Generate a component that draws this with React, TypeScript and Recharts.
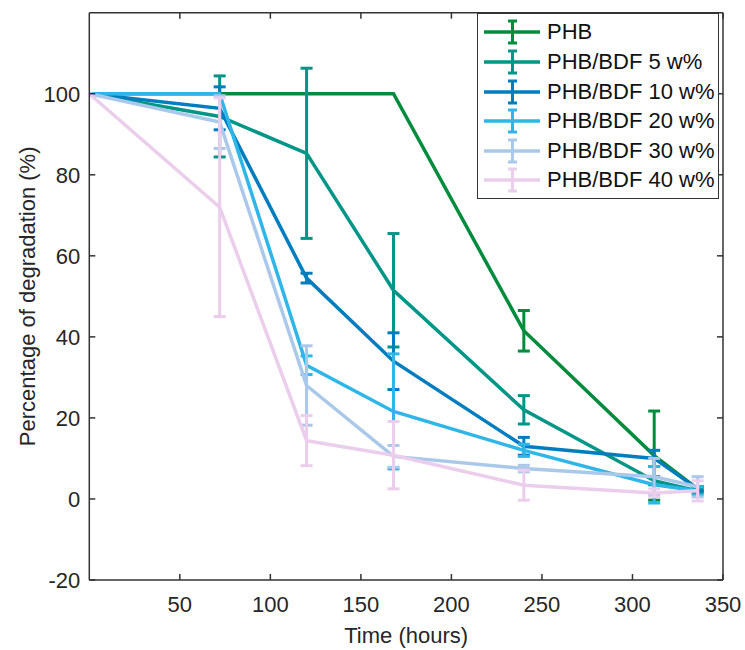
import React from 'react';
import { ComposedChart, Line, XAxis, YAxis, ErrorBar, Legend } from 'recharts';

// ---- data ----
const timeHours = [0, 72, 120, 168, 240, 312, 336];

const seriesNames = [
  'PHB',
  'PHB/BDF 5 w%',
  'PHB/BDF 10 w%',
  'PHB/BDF 20 w%',
  'PHB/BDF 30 w%',
  'PHB/BDF 40 w%',
];

const phb = [100, 100, 100, 100, 41.5, 10.7, 2.5];
const phbErr = [0, 0, 0, 0, 5, 11, 0.5];

const bdf5 = [100, 94.4, 85.3, 51.5, 22, 4.5, 2];
const bdf5Err = [0, 10, 21, 14, 3.5, 1, 0.5];

const bdf10 = [100, 96.4, 54.5, 34, 13, 10, 2.5];
const bdf10Err = [0, 5.3, 1.2, 7, 2.2, 2, 0.5];

const bdf20 = [100, 100, 33, 21.6, 12, 3.5, 2];
const bdf20Err = [0, 0, 2.3, 14.2, 1.5, 4.5, 1];

const bdf30 = [100, 93, 28, 10.5, 7.5, 5.5, 3];
const bdf30Err = [0, 6.5, 9.8, 2.7, 0.8, 4.5, 2.5];

const bdf40 = [100, 72, 14.4, 10.8, 3.4, 1.5, 2];
const bdf40Err = [0, 27, 6.2, 8.3, 3.7, 1, 2.5];

const xTicks = [50, 100, 150, 200, 250, 300, 350];
const yTicks = [-20, 0, 20, 40, 60, 80, 100];

// ---- styling ----
const colors = ['#008C3C', '#009687', '#007DBE', '#2EB6E8', '#AAC8EA', '#EBCDEC'];
const AXIS = '#333333';
const FONT = '"Liberation Sans", Arial, Helvetica, sans-serif';
const FS = 22;

const values = [phb, bdf5, bdf10, bdf20, bdf30, bdf40];
const errors = [phbErr, bdf5Err, bdf10Err, bdf20Err, bdf30Err, bdf40Err];

const data = timeHours.map((t, i) => {
  const row: Record<string, number> = { t };
  values.forEach((arr, k) => {
    row['v' + k] = arr[i];
    row['e' + k] = errors[k][i];
  });
  return row;
});

const BottomTick = (props: any) => {
  const { x, y, payload } = props;
  return (
    <g>
      <line x1={x} y1={y} x2={x} y2={y - 6} stroke={AXIS} strokeWidth={1.5} />
      <text x={x} y={y + 32} textAnchor="middle" fontSize={FS} fontFamily={FONT} fill="#262626">
        {payload.value}
      </text>
    </g>
  );
};

const TopTick = (props: any) => {
  const { x, y } = props;
  return <line x1={x} y1={y} x2={x} y2={y + 6} stroke={AXIS} strokeWidth={1.5} />;
};

const LeftTick = (props: any) => {
  const { x, y, payload } = props;
  return (
    <g>
      <line x1={x} y1={y} x2={x + 6} y2={y} stroke={AXIS} strokeWidth={1.5} />
      <text x={x - 9} y={y + 8} textAnchor="end" fontSize={FS} fontFamily={FONT} fill="#262626">
        {payload.value}
      </text>
    </g>
  );
};

const RightTick = (props: any) => {
  const { x, y } = props;
  return <line x1={x} y1={y} x2={x - 6} y2={y} stroke={AXIS} strokeWidth={1.5} />;
};

const LegendBox = () => (
  <div
    style={{
      border: '1.5px solid #333',
      background: '#fff',
      width: 240,
      height: 180,
      paddingTop: 4,
      fontFamily: FONT,
      fontSize: FS,
      color: '#111',
    }}
  >
    {seriesNames.map((name, i) => (
      <div key={name} style={{ display: 'flex', alignItems: 'center', height: 29.6 }}>
        <svg width={69} height={30} style={{ flex: 'none' }}>
          <line x1={6} y1={15} x2={62} y2={15} stroke={colors[i]} strokeWidth={3.5} />
          <line x1={34.5} y1={3} x2={34.5} y2={27} stroke={colors[i]} strokeWidth={3} />
          <line x1={30} y1={4} x2={39} y2={4} stroke={colors[i]} strokeWidth={3} />
          <line x1={30} y1={26} x2={39} y2={26} stroke={colors[i]} strokeWidth={3} />
        </svg>
        <span style={{ whiteSpace: 'nowrap', lineHeight: '30px' }}>{name}</span>
      </div>
    ))}
  </div>
);

export default function App() {
  return (
    <div style={{ position: 'absolute', left: 0, top: 0, width: 745, height: 650, background: '#fff' }}>
      <ComposedChart
        width={745}
        height={650}
        data={data}
        margin={{ top: 11.7, right: 21, bottom: 0, left: 0 }}
      >
        <XAxis
          dataKey="t"
          type="number"
          domain={[0, 350]}
          ticks={xTicks}
          interval={0}
          height={70}
          tickSize={0}
          tickMargin={0}
          tick={<BottomTick />}
          axisLine={{ stroke: AXIS, strokeWidth: 1.5 }}
          allowDataOverflow
          label={{
            content: (p: any) => {
              const vb = p.viewBox;
              return (
                <text
                  x={vb.x + vb.width / 2}
                  y={vb.y + 63}
                  textAnchor="middle"
                  fontSize={FS}
                  fontFamily={FONT}
                  fill="#262626"
                >
                  Time (hours)
                </text>
              );
            },
          }}
        />
        <XAxis
          xAxisId="top"
          orientation="top"
          dataKey="t"
          type="number"
          domain={[0, 350]}
          ticks={xTicks}
          interval={0}
          height={1}
          tickSize={0}
          tickMargin={0}
          tick={<TopTick />}
          axisLine={{ stroke: AXIS, strokeWidth: 1.5 }}
          allowDataOverflow
        />
        <YAxis
          type="number"
          domain={[-20, 120]}
          ticks={yTicks}
          interval={0}
          width={89.3}
          tickSize={0}
          tickMargin={0}
          tick={<LeftTick />}
          axisLine={{ stroke: AXIS, strokeWidth: 1.5 }}
          allowDataOverflow
          label={{
            content: (p: any) => {
              const vb = p.viewBox;
              const cx = vb.x + 28;
              const cy = vb.y + vb.height / 2;
              return (
                <text
                  x={cx}
                  y={cy}
                  transform={`rotate(-90 ${cx} ${cy})`}
                  textAnchor="middle"
                  dominantBaseline="central"
                  fontSize={FS}
                  fontFamily={FONT}
                  fill="#262626"
                >
                  Percentage of degradation (%)
                </text>
              );
            },
          }}
        />
        <YAxis
          yAxisId="right"
          orientation="right"
          type="number"
          domain={[-20, 120]}
          ticks={yTicks}
          interval={0}
          width={1}
          tickSize={0}
          tickMargin={0}
          tick={<RightTick />}
          axisLine={{ stroke: AXIS, strokeWidth: 1.5 }}
          allowDataOverflow
        />
        {/* invisible series so the mirrored top/right axes are drawn */}
        <Line
          xAxisId="top"
          yAxisId="right"
          dataKey="v0"
          stroke="none"
          dot={false}
          activeDot={false}
          legendType="none"
          isAnimationActive={false}
        />
        {seriesNames.map((name, k) => (
          <Line
            key={name}
            name={name}
            type="linear"
            dataKey={'v' + k}
            stroke={colors[k]}
            strokeWidth={3.5}
            dot={false}
            activeDot={false}
            isAnimationActive={false}
          >
            <ErrorBar
              dataKey={'e' + k}
              direction="y"
              width={6}
              strokeWidth={3}
              stroke={colors[k]}
              isAnimationActive={false}
            />
          </Line>
        ))}
        <Legend
          layout="horizontal"
          verticalAlign="middle"
          align="center"
          content={<LegendBox />}
          wrapperStyle={{ top: 12.7, left: 477, width: 244, height: 186 }}
        />
      </ComposedChart>
    </div>
  );
}
